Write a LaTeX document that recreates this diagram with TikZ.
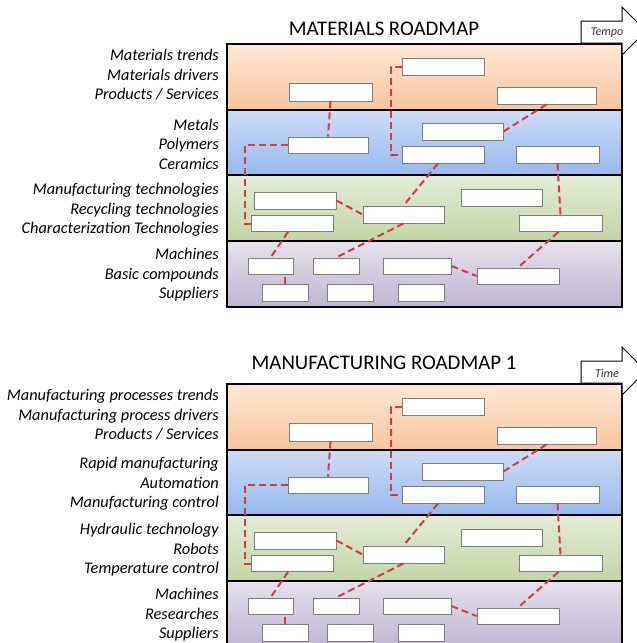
\documentclass[tikz,border=0pt]{standalone}
\usepackage{fontspec}
\setmainfont{Carlito}
\usetikzlibrary{calc}

\definecolor{rmred}{RGB}{214,58,66}
\definecolor{rmgray}{RGB}{125,125,125}
\definecolor{orT}{RGB}{253,232,214}
\definecolor{orB}{RGB}{248,197,156}
\definecolor{blT}{RGB}{206,220,245}
\definecolor{blB}{RGB}{150,184,236}
\definecolor{grT}{RGB}{228,236,216}
\definecolor{grB}{RGB}{194,213,164}
\definecolor{puT}{RGB}{230,226,236}
\definecolor{puB}{RGB}{190,181,210}

\tikzset{
  rmbox/.style={draw=rmgray, fill=white, line width=0.9pt, inner sep=0, minimum width=82, minimum height=17},
  rmlink/.style={rmred, line width=2pt, dash pattern=on 7pt off 4pt},
  rmlabel/.style={anchor=east, align=right, inner sep=0, font=\fontsize{16.3}{19.6}\selectfont\itshape},
}

% #1 suffix of node names, #2 vertical offset, #3 title, #4 time word, #5-#8 layer labels, #9 title height
\newcommand{\roadmap}[9]{%
\begin{scope}[shift={(0,#2)}]
% layers
\fill[top color=orT, bottom color=orB] (227,44) rectangle (622,110);
\fill[top color=blT, bottom color=blB] (227,110) rectangle (622,175);
\fill[top color=grT, bottom color=grB] (227,175) rectangle (622,241);
\fill[top color=puT, bottom color=puB] (227,241) rectangle (622,307);
\draw[line width=1.5pt] (227,44) rectangle (622,307);
\foreach \y in {110,175,241}
  \draw[line width=1.5pt] (227,\y) -- (622,\y);
% title and time arrow
\node[font=\fontsize{20.8}{24}\selectfont] (t#1) at (384,#9) {#3};
\draw[line width=1pt, fill=white] (581,21) -- (622,21) -- (622,7) -- (646,31)
  -- (622,55) -- (622,43) -- (581,43) -- cycle;
\node[font=\fontsize{12}{14}\selectfont\itshape, text=black!80] (w#1) at (607,33) {#4};
% labels
\node[rmlabel] (la#1) at (219,75) {#5};
\node[rmlabel] (lb#1) at (219,144) {#6};
\node[rmlabel] (lc#1) at (219,210) {#7};
\node[rmlabel] (ld#1) at (219,275) {#8};
% boxes
\node[rmbox] (a1#1) at (443,66.5) {};
\node[rmbox, minimum width=83, minimum height=18] (a2#1) at (330.5,92) {};
\node[rmbox, minimum width=99] (a3#1) at (546.5,95.5) {};
\node[rmbox, minimum width=81] (b1#1) at (462.5,131.5) {};
\node[rmbox, minimum width=80, minimum height=16] (b2#1) at (328,145) {};
\node[rmbox] (b3#1) at (443,154.5) {};
\node[rmbox, minimum width=83] (b4#1) at (557.5,154.5) {};
\node[rmbox] (c1#1) at (295,200.5) {};
\node[rmbox, minimum height=16] (c2#1) at (292,223.5) {};
\node[rmbox, minimum width=81] (c3#1) at (403.5,214.5) {};
\node[rmbox, minimum width=81] (c4#1) at (501.5,197.5) {};
\node[rmbox, minimum width=83, minimum height=16] (c5#1) at (560.5,223.5) {};
\node[rmbox, minimum width=45, minimum height=16] (d1#1) at (270.5,266) {};
\node[rmbox, minimum width=46, minimum height=16] (d2#1) at (336,266) {};
\node[rmbox, minimum width=68, minimum height=16] (d3#1) at (417,266) {};
\node[rmbox, minimum height=16] (d4#1) at (518,276) {};
\node[rmbox, minimum width=46] (d5#1) at (285,292.5) {};
\node[rmbox, minimum width=46] (d6#1) at (350,292.5) {};
\node[rmbox, minimum width=46] (d7#1) at (421,292.5) {};
% links
\draw[rmlink] (a2#1.south) -- (b2#1.north);
\draw[rmlink] (a1#1.west) -- ++(-11,0) |- (b3#1.west);
\draw[rmlink] (b1#1.east) -- (a3#1.south);
\draw[rmlink] (b2#1.west) -- ++(-43,0) |- (c2#1.west);
\draw[rmlink] ([xshift=-5]b3#1.south) -- (c3#1.north);
\draw[rmlink] (b4#1.south) -- (c5#1.north);
\draw[rmlink] (c1#1.east) -- (c3#1.west);
\draw[rmlink] ([xshift=-4]c2#1.south) -- (d1#1.north);
\draw[rmlink] (c3#1.south) -- (d2#1.north);
\draw[rmlink] ([xshift=-2]c5#1.south) -- (d4#1.north);
\draw[rmlink] (d3#1.east) -- (d4#1.west);
\draw[rmlink] (d5#1.north) -- (d5#1.north |- d1#1.south);
\end{scope}}

\begin{document}
\begin{tikzpicture}[x=1pt, y=-1pt]
\useasboundingbox (0,0) rectangle (637,643);
\roadmap{m}{0}{MATERIALS ROADMAP}{Tempo}
  {Materials trends\\Materials drivers\\Products / Services}
  {Metals\\Polymers\\Ceramics}
  {Manufacturing technologies\\Recycling technologies\\Characterization Technologies}
  {Machines\\Basic compounds\\Suppliers}{29}
\roadmap{f}{340}{MANUFACTURING ROADMAP 1}{Time}
  {Manufacturing processes trends\\Manufacturing process drivers\\Products / Services}
  {Rapid manufacturing\\Automation\\Manufacturing control}
  {Hydraulic technology\\Robots\\Temperature control}
  {Machines\\Researches\\Suppliers}{23}
\end{tikzpicture}
\end{document}
